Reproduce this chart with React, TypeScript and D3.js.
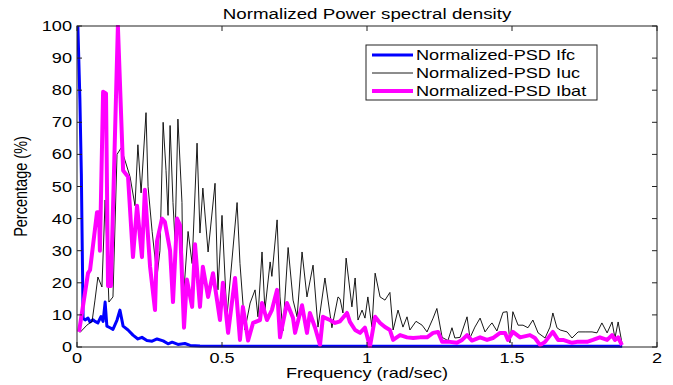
import React from 'react';
import * as d3 from 'd3';

const title = 'Normalized Power spectral density';
const xLabel = 'Frequency (rad/sec)';
const yLabel = 'Percentage (%)';
const xTicks = [0, 0.5, 1, 1.5, 2];
const yTicks = [0, 10, 20, 30, 40, 50, 60, 70, 80, 90, 100];
const seriesNames = ['Normalized-PSD Ifc', 'Normalized-PSD Iuc', 'Normalized-PSD Ibat'];
const seriesColors = ['#0000ff', '#000000', '#ff00ff'];
const seriesWidths = [3, 0.9, 4];

// [frequency (rad/sec), percentage]
const ifc: [number, number][] = [
  [0.003, 100], [0.010, 77], [0.015, 54], [0.021, 9], [0.028, 8.4], [0.038, 9], [0.045, 7.8],
  [0.055, 8.5], [0.062, 8], [0.072, 7.5], [0.083, 9.5], [0.090, 8], [0.097, 14], [0.103, 6.5],
  [0.114, 6], [0.124, 5.5], [0.138, 8.4], [0.148, 11.5], [0.159, 6.5], [0.176, 5.3], [0.193, 3.7],
  [0.210, 2.5], [0.224, 3], [0.241, 2], [0.259, 1.8], [0.276, 2.5], [0.297, 1.9], [0.314, 1],
  [0.328, 1.5], [0.348, 0.8], [0.372, 1.1], [0.390, 0.5], [0.424, 0.3], [0.6, 0.2], [1.0, 0.2],
  [1.5, 0.2], [1.88, 0.2],
];

const iuc: [number, number][] = [
  [0.010, 4.5], [0.034, 6.8], [0.052, 8], [0.062, 14.6], [0.072, 21.8], [0.086, 18.7], [0.097, 45.8],
  [0.110, 14], [0.124, 15.6], [0.138, 60], [0.152, 62], [0.166, 58], [0.183, 53], [0.200, 44],
  [0.210, 63], [0.221, 48], [0.238, 73], [0.245, 50], [0.259, 36], [0.276, 22], [0.286, 30],
  [0.297, 70], [0.307, 55], [0.314, 41], [0.321, 69], [0.331, 45], [0.338, 33], [0.348, 71],
  [0.362, 45], [0.366, 14], [0.383, 36], [0.397, 26], [0.414, 63.5], [0.424, 35.5], [0.434, 49.5],
  [0.452, 29.6], [0.476, 51], [0.486, 17.8], [0.500, 41], [0.517, 9.4], [0.552, 45], [0.562, 26],
  [0.579, 5.3], [0.597, 13.7], [0.614, 17.8], [0.624, 9.4], [0.638, 29.6], [0.648, 11.5],
  [0.666, 26.5], [0.672, 22], [0.690, 39.6], [0.700, 15.6], [0.710, 5], [0.728, 31], [0.745, 14.6],
  [0.759, 9.4], [0.776, 29.6], [0.793, 15.6], [0.814, 25.5], [0.831, 6.2], [0.855, 21.5],
  [0.879, 6], [0.900, 15.6], [0.907, 15], [0.917, 10.6], [0.928, 27.7], [0.948, 12.5],
  [0.959, 21.5], [0.969, 8.4], [0.983, 11.5], [0.993, 9], [1.003, 15.6], [1.017, 6.2], [1.028, 23],
  [1.045, 15.6], [1.062, 14.6], [1.079, 17], [1.090, 5.3], [1.107, 11.5], [1.124, 6.2], [1.138, 9.4],
  [1.148, 5.3], [1.169, 8], [1.190, 6.8], [1.207, 4.7], [1.228, 9], [1.241, 12], [1.259, 3],
  [1.279, 2], [1.293, 6], [1.303, 2.8], [1.321, 3], [1.345, 9.4], [1.355, 2.8], [1.372, 6.2],
  [1.390, 9], [1.407, 4.7], [1.424, 6.8], [1.431, 7.5], [1.448, 5], [1.469, 10.8], [1.483, 11],
  [1.493, 1.3], [1.503, 11], [1.521, 6.8], [1.538, 6.8], [1.555, 6], [1.572, 8.4], [1.590, 4.4],
  [1.614, 2.8], [1.631, 6.2], [1.641, 10.6], [1.655, 6], [1.666, 5.3], [1.690, 4.7], [1.707, 2.8],
  [1.728, 4.7], [1.752, 4.7], [1.776, 4.7], [1.793, 4.4], [1.810, 7.5], [1.828, 4.4], [1.845, 7.8],
  [1.855, 2.8], [1.866, 7.8], [1.879, 1.3],
];

const ibat: [number, number][] = [
  [0.007, 4.7], [0.038, 23], [0.045, 24], [0.069, 42], [0.076, 42], [0.079, 30], [0.090, 79.5],
  [0.100, 79], [0.107, 19], [0.117, 19], [0.141, 100], [0.159, 55], [0.176, 53], [0.193, 28],
  [0.207, 44], [0.224, 28], [0.234, 49], [0.252, 25], [0.269, 11.5], [0.276, 33], [0.293, 40],
  [0.303, 39], [0.321, 30], [0.331, 14], [0.345, 40], [0.355, 38], [0.369, 6], [0.379, 21],
  [0.397, 12.5], [0.407, 32], [0.424, 12.5], [0.434, 25], [0.452, 15.6], [0.469, 23], [0.493, 8.4],
  [0.503, 20], [0.521, 4.4], [0.545, 21.5], [0.562, 2.2], [0.572, 12.5], [0.590, 2], [0.607, 7.5],
  [0.631, 8.4], [0.638, 13.7], [0.655, 8.4], [0.672, 11.5], [0.690, 17.8], [0.700, 3],
  [0.724, 13.7], [0.745, 9], [0.752, 4.4], [0.776, 13], [0.793, 4.4], [0.803, 10.6], [0.821, 6],
  [0.838, 0.6], [0.848, 9.4], [0.872, 8.4], [0.890, 7.5], [0.907, 8], [0.931, 10.6], [0.941, 7.8],
  [0.959, 5.3], [0.976, 4.4], [0.993, 6], [1.010, 0], [1.028, 9.4], [1.045, 7.5], [1.062, 6.2],
  [1.079, 5.3], [1.090, 2.2], [1.114, 3.7], [1.138, 3], [1.159, 2.8], [1.183, 3], [1.207, 3],
  [1.228, 4.4], [1.245, 4.7], [1.259, 1.6], [1.286, 1.6], [1.310, 1.3], [1.328, 2.2], [1.345, 3.7],
  [1.362, 2], [1.390, 3], [1.414, 2.2], [1.434, 2.8], [1.459, 4.4], [1.476, 4.4], [1.486, 2.2],
  [1.503, 4.7], [1.528, 3], [1.562, 3.7], [1.579, 2.8], [1.597, 0.6], [1.614, 1.6], [1.638, 4.4],
  [1.641, 4.7], [1.659, 2.2], [1.676, 2.2], [1.707, 1.3], [1.724, 1.6], [1.759, 1.6], [1.779, 2.2],
  [1.803, 3], [1.828, 2.2], [1.845, 3.7], [1.855, 2.2], [1.866, 3], [1.879, 0.6],
];

const W = 673;
const H = 385;
const L = 77, R = 657, T = 26, B = 347;
const SX = 1.25;
const FONT = '"Liberation Sans", Arial, Helvetica, sans-serif';

function St({ x, y, anchor = 'start', size = 14.5, rotate = 0, children }: any) {
  return (
    <text
      transform={`translate(${x},${y}) scale(${SX},1)${rotate ? ` rotate(${rotate})` : ''}`}
      textAnchor={anchor}
      fontSize={size}
      fontFamily={FONT}
      fill="#000"
    >
      {children}
    </text>
  );
}

export default function App() {
  const x = d3.scaleLinear().domain([0, 2]).range([L, R]);
  const y = d3.scaleLinear().domain([0, 100]).range([B, T]);
  const line = d3.line<[number, number]>().x((d) => x(d[0])).y((d) => y(d[1]));
  const series = [ifc, iuc, ibat];
  const tk = 5;
  return (
    <svg width={W} height={H} style={{ position: 'absolute', left: 0, top: 0, background: '#fff' }}>
      <defs>
        <clipPath id="plotclip">
          <rect x={L} y={T - 1} width={R - L} height={B - T + 2} />
        </clipPath>
      </defs>
      <rect x={0} y={0} width={W} height={H} fill="#fff" />
      <g clipPath="url(#plotclip)">
        {series.map((s, i) => (
          <path key={i} d={line(s) || ''} fill="none" stroke={seriesColors[i]} strokeWidth={seriesWidths[i]} strokeLinejoin="round" />
        ))}
      </g>
      <rect x={L} y={T} width={R - L} height={B - T} fill="none" stroke="#222" strokeWidth={1} />
      {yTicks.map((t) => (
        <g key={'y' + t}>
          <line x1={L} x2={L + tk} y1={y(t)} y2={y(t)} stroke="#222" />
          <line x1={R} x2={R - tk} y1={y(t)} y2={y(t)} stroke="#222" />
          <St x={L - 5} y={y(t) + 5} anchor="end">{t}</St>
        </g>
      ))}
      {xTicks.map((t) => (
        <g key={'x' + t}>
          <line x1={x(t)} x2={x(t)} y1={B} y2={B - tk} stroke="#222" />
          <line x1={x(t)} x2={x(t)} y1={T} y2={T + tk} stroke="#222" />
          <St x={x(t)} y={363} anchor="middle">{t}</St>
        </g>
      ))}
      <St x={(L + R) / 2} y={19} anchor="middle" size={15}>{title}</St>
      <St x={(L + R) / 2} y={378} anchor="middle">{xLabel}</St>
      <St x={27} y={(T + B) / 2} anchor="middle" rotate={-90}>{yLabel}</St>
      <g>
        <rect x={366} y={45} width={231} height={55} fill="#fff" stroke="#222" strokeWidth={1} />
        {seriesNames.map((n, i) => (
          <g key={n}>
            <line x1={372} x2={413} y1={55 + i * 18} y2={55 + i * 18} stroke={seriesColors[i]} strokeWidth={seriesWidths[i]} />
            <St x={416} y={60 + i * 18}>{n}</St>
          </g>
        ))}
      </g>
    </svg>
  );
}
